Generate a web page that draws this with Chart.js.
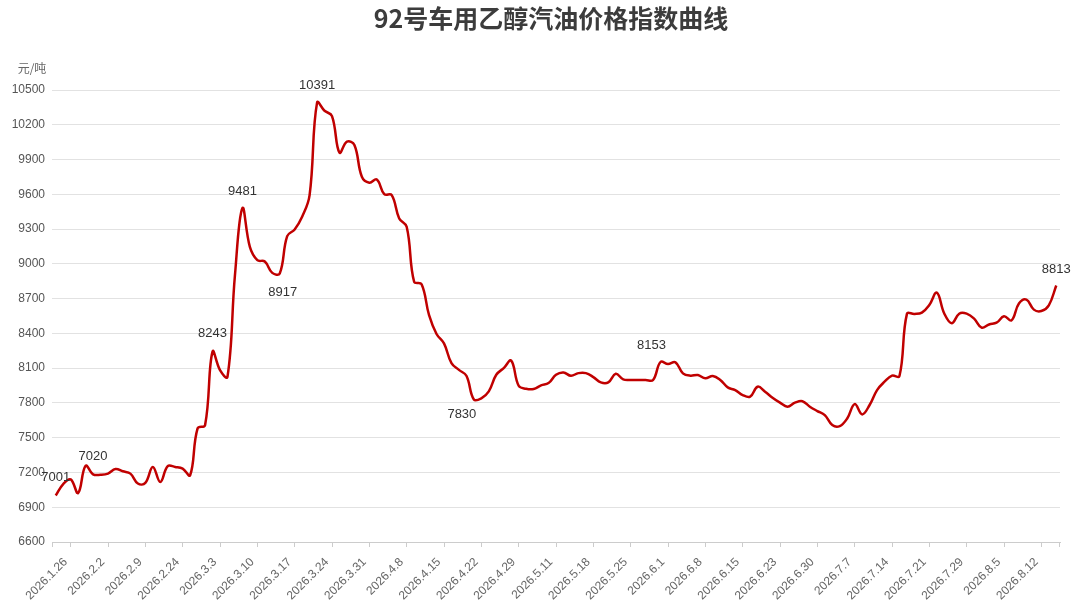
<!DOCTYPE html>
<html>
<head>
<meta charset="utf-8">
<script src="https://cdn.jsdelivr.net/npm/chart.js@4/dist/chart.umd.min.js"></script>
<style>
html,body{margin:0;padding:0;background:#fff;}
#wrap{width:1080px;height:606px;}
</style>
</head>
<body>
<div id="wrap"><canvas id="c" width="1080" height="606"></canvas></div>
<script>
// ---- data ----
const chartTitle = '92号车用乙醇汽油价格指数曲线';
const unitLabel = '元/吨';
const tickLabels = ['2026.1.26','2026.2.2','2026.2.9','2026.2.24','2026.3.3','2026.3.10','2026.3.17','2026.3.24','2026.3.31','2026.4.8','2026.4.15','2026.4.22','2026.4.29','2026.5.11','2026.5.18','2026.5.25','2026.6.1','2026.6.8','2026.6.15','2026.6.23','2026.6.30','2026.7.7','2026.7.14','2026.7.21','2026.7.29','2026.8.5','2026.8.12'];
const tickStart = 2;   // index of first labelled point
const tickEvery = 5;   // one label every 5 points
const priceIndex = [
  7001,7100,7140,7023,7258,7184,7180,7190,7230,7210,
  7190,7105,7110,7248,7118,7255,7248,7233,7176,7580,
  7608,8243,8083,8025,8900,9481,9147,9032,9020,8922,
  8917,9239,9297,9406,9593,10391,10321,10275,9959,10054,
  10025,9751,9700,9728,9602,9593,9392,9320,8845,8824,
  8557,8395,8314,8143,8085,8034,7830,7840,7900,8043,
  8100,8165,7948,7922,7920,7951,7971,8043,8063,8034,
  8057,8057,8023,7977,7977,8051,8003,7998,7998,7998,
  7998,8153,8136,8150,8055,8035,8041,8012,8032,7998,
  7934,7911,7868,7854,7940,7897,7845,7802,7768,7802,
  7815,7767,7730,7695,7609,7600,7666,7790,7701,7782,
  7911,7983,8035,8032,8568,8568,8579,8645,8752,8572,
  8488,8570,8570,8527,8449,8477,8492,8547,8512,8657,
  8691,8605,8593,8642,8813
];
const noteIndex = [0, 5, 21, 25, 30, 35, 56, 81, 134];
const noteText  = ['7001','7020','8243','9481','8917','10391','7830','8153','8813'];
const yMin = 6600, yMax = 10500, yStep = 300;

// ---- build category labels ----
const labels = priceIndex.map((v, i) =>
  (i >= tickStart && (i - tickStart) % tickEvery === 0) ? (tickLabels[(i - tickStart) / tickEvery] || '') : '');

const FONT = "'Liberation Sans', 'Noto Sans CJK SC', Arial, sans-serif";
const CJK = "'Noto Sans CJK SC', 'Liberation Sans', sans-serif";

// note placement (relative to the point drawn by the library)
const noteStyle = {
  0:{dx:0,dy:-18}, 5:{dx:0,dy:-18}, 21:{dx:0,dy:-18}, 25:{dx:0,dy:-17},
  30:{dx:3,dy:19}, 35:{dx:0,dy:-17}, 56:{dx:-12,dy:15}, 81:{dx:-9,dy:-17}, 134:{dx:0,dy:-16}
};

const decorPlugin = {
  id: 'decor',
  afterDraw(chart) {
    const ctx = chart.ctx;
    const area = chart.chartArea;
    ctx.save();
    // title
    ctx.font = "bold 25px " + CJK;
    ctx.fillStyle = '#3c3c3c';
    ctx.textAlign = 'center';
    ctx.textBaseline = 'middle';
    ctx.fillText(chartTitle, 551, 18);
    // unit
    ctx.font = "12px " + CJK;
    ctx.fillStyle = '#666';
    ctx.textAlign = 'center';
    ctx.fillText(unitLabel, area.left - 20, area.top - 22);
    // axis end ticks
    const xs = chart.scales.x;
    ctx.strokeStyle = '#ccc';
    ctx.lineWidth = 1;
    ctx.beginPath();
    ctx.moveTo(xs.left + 0.5, area.bottom); ctx.lineTo(xs.left + 0.5, area.bottom + 5);
    ctx.moveTo(xs.right - 0.5, area.bottom); ctx.lineTo(xs.right - 0.5, area.bottom + 5);
    ctx.stroke();
    // notes
    const meta = chart.getDatasetMeta(0);
    ctx.font = "13px " + FONT;
    ctx.fillStyle = '#333';
    ctx.textAlign = 'center';
    ctx.textBaseline = 'middle';
    noteIndex.forEach((idx, k) => {
      const el = meta.data[idx];
      if (!el) return;
      const st = noteStyle[idx] || {dx:0, dy:-17};
      ctx.fillText(noteText[k], el.x + st.dx, el.y + st.dy);
    });
    ctx.restore();
  }
};

new Chart(document.getElementById('c'), {
  type: 'line',
  data: {
    labels: labels,
    datasets: [{
      data: priceIndex,
      borderColor: '#c00000',
      borderWidth: 2.5,
      pointRadius: 0,
      pointHoverRadius: 0,
      tension: 0.4,
      fill: false
    }]
  },
  options: {
    responsive: false,
    animation: false,
    devicePixelRatio: 1,
    layout: { padding: { top: 90, right: 20, bottom: 0, left: 0 } },
    plugins: { legend: { display: false }, tooltip: { enabled: false }, title: { display: false } },
    scales: {
      x: {
        type: 'category',
        offset: true,
        afterFit(s) { s.height = 64; },
        border: { display: true, color: '#ccc', width: 1 },
        grid: {
          drawOnChartArea: false,
          drawTicks: true,
          tickLength: 5,
          tickColor: (c) => (labels[c.index] ? '#ccc' : 'rgba(0,0,0,0)'),
          color: (c) => (labels[c.index] ? '#ccc' : 'rgba(0,0,0,0)')
        },
        ticks: {
          autoSkip: false,
          maxRotation: 45,
          minRotation: 45,
          padding: 8,
          labelOffset: -5,
          color: '#666',
          font: { size: 12, family: FONT },
          callback: (v, i) => labels[i]
        }
      },
      y: {
        min: yMin,
        max: yMax,
        afterFit(s) { s.width = 52; },
        border: { display: false },
        grid: { color: '#e2e2e2', drawTicks: false, lineWidth: 1 },
        ticks: {
          stepSize: yStep,
          padding: 7,
          color: '#555',
          font: { size: 12, family: FONT },
          callback: (v) => String(v)
        }
      }
    }
  },
  plugins: [decorPlugin]
});
</script>
</body>
</html>
